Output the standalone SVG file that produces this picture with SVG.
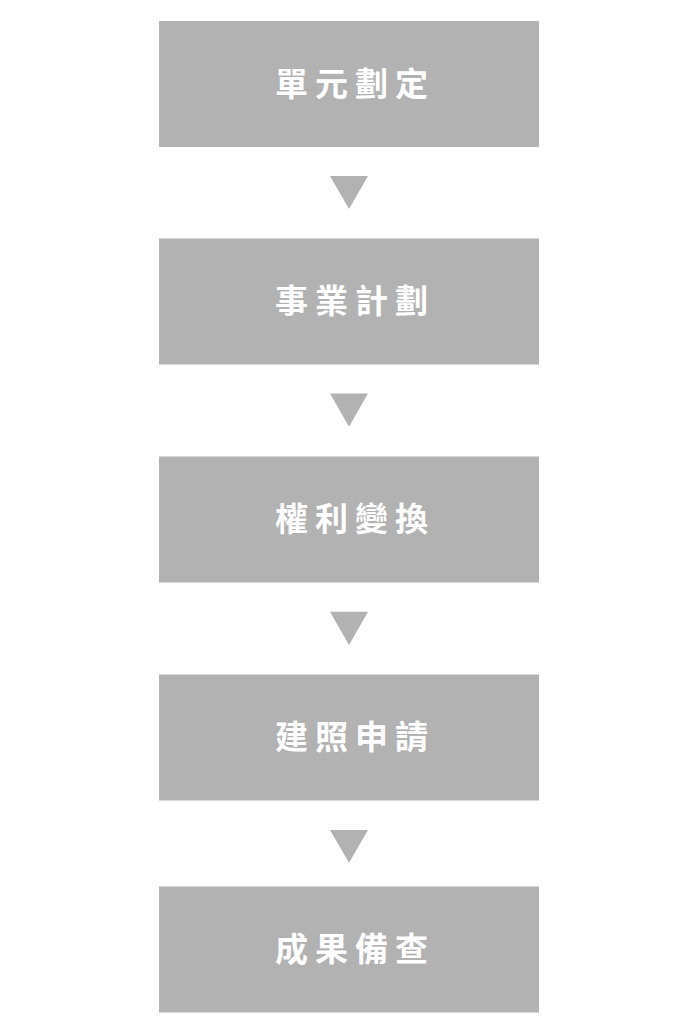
<svg xmlns="http://www.w3.org/2000/svg" width="695" height="1034" viewBox="0 0 695 1034">
<style>
.box{fill:#b2b2b2}
.lbl{fill:#ffffff;font-family:"Noto Sans CJK TC","Noto Sans CJK SC",sans-serif;font-size:33px;font-weight:bold;letter-spacing:7px}
.arr{fill:#b2b2b2}
</style>
<rect width="695" height="1034" fill="#ffffff"/>
<g id="connectors">
<polygon class="arr" points="330,176 368,176 349,209"/>
<polygon class="arr" points="330,393.5 368,393.5 349,426.7"/>
<polygon class="arr" points="330,611.7 368,611.7 349,645"/>
<polygon class="arr" points="330,830 368,830 349,862.7"/>
</g>
<g id="node1"><rect class="box" x="159" y="21" width="380" height="126"/><text class="lbl" x="275" y="95.5">單元劃定</text></g>
<g id="node2"><rect class="box" x="159" y="238.5" width="380" height="126"/><text class="lbl" x="275" y="313">事業計劃</text></g>
<g id="node3"><rect class="box" x="159" y="456.5" width="380" height="126"/><text class="lbl" x="275" y="531">權利變換</text></g>
<g id="node4"><rect class="box" x="159" y="674.5" width="380" height="126"/><text class="lbl" x="275" y="749">建照申請</text></g>
<g id="node5"><rect class="box" x="159" y="886.5" width="380" height="126"/><text class="lbl" x="275" y="961">成果備查</text></g>
</svg>
